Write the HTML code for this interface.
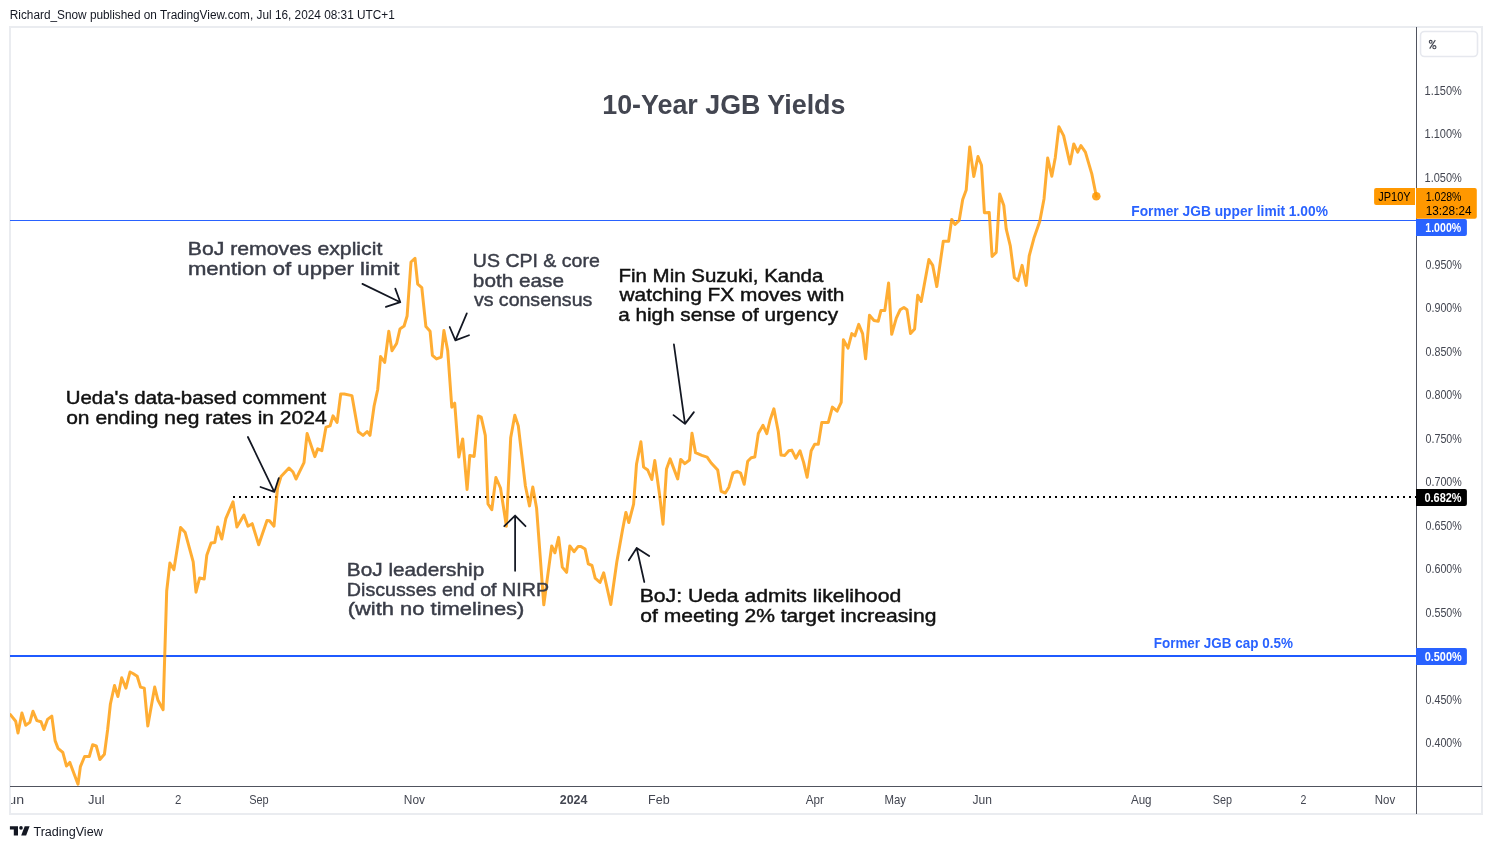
<!DOCTYPE html><html><head><meta charset="utf-8"><title>10-Year JGB Yields</title>
<style>html,body{margin:0;padding:0;background:#fff;}body{width:1492px;height:849px;overflow:hidden;}svg{display:block;font-family:"Liberation Sans", sans-serif;will-change:transform;}</style></head><body>
<svg width="1492" height="849" viewBox="0 0 1492 849">
<rect x="0" y="0" width="1492" height="849" fill="#ffffff"/>
<text x="9.79" y="18.8" font-size="12" fill="#131722" font-weight="normal" text-anchor="start" textLength="385.01" lengthAdjust="spacingAndGlyphs">Richard_Snow published on TradingView.com, Jul 16, 2024 08:31 UTC+1</text>
<rect x="10" y="27" width="1472" height="787" fill="#ffffff" stroke="#eaecf0" stroke-width="2"/>
<defs><clipPath id="pane"><rect x="10" y="28" width="1406" height="758"/></clipPath><clipPath id="tax"><rect x="11" y="787" width="1405" height="26"/></clipPath></defs>
<text x="602.28" y="113.7" font-size="27" fill="#434651" font-weight="bold" text-anchor="start" textLength="243.16" lengthAdjust="spacingAndGlyphs">10-Year JGB Yields</text>
<g clip-path="url(#pane)">
<rect x="10" y="220" width="1406" height="1" fill="#2962ff"/>
<rect x="10" y="655" width="1406" height="2" fill="#1f5aff"/>
<path d="M233 496h2v2h-2zM239 496h2v2h-2zM245 496h2v2h-2zM251 496h2v2h-2zM257 496h2v2h-2zM263 496h2v2h-2zM269 496h2v2h-2zM275 496h2v2h-2zM281 496h2v2h-2zM287 496h2v2h-2zM293 496h2v2h-2zM299 496h2v2h-2zM305 496h2v2h-2zM311 496h2v2h-2zM317 496h2v2h-2zM323 496h2v2h-2zM329 496h2v2h-2zM335 496h2v2h-2zM341 496h2v2h-2zM347 496h2v2h-2zM353 496h2v2h-2zM359 496h2v2h-2zM365 496h2v2h-2zM371 496h2v2h-2zM377 496h2v2h-2zM383 496h2v2h-2zM389 496h2v2h-2zM395 496h2v2h-2zM401 496h2v2h-2zM407 496h2v2h-2zM413 496h2v2h-2zM419 496h2v2h-2zM425 496h2v2h-2zM431 496h2v2h-2zM437 496h2v2h-2zM443 496h2v2h-2zM449 496h2v2h-2zM455 496h2v2h-2zM461 496h2v2h-2zM467 496h2v2h-2zM473 496h2v2h-2zM479 496h2v2h-2zM485 496h2v2h-2zM491 496h2v2h-2zM497 496h2v2h-2zM503 496h2v2h-2zM509 496h2v2h-2zM515 496h2v2h-2zM521 496h2v2h-2zM527 496h2v2h-2zM533 496h2v2h-2zM539 496h2v2h-2zM545 496h2v2h-2zM551 496h2v2h-2zM557 496h2v2h-2zM563 496h2v2h-2zM569 496h2v2h-2zM575 496h2v2h-2zM581 496h2v2h-2zM587 496h2v2h-2zM593 496h2v2h-2zM599 496h2v2h-2zM605 496h2v2h-2zM611 496h2v2h-2zM617 496h2v2h-2zM623 496h2v2h-2zM629 496h2v2h-2zM635 496h2v2h-2zM641 496h2v2h-2zM647 496h2v2h-2zM653 496h2v2h-2zM659 496h2v2h-2zM665 496h2v2h-2zM671 496h2v2h-2zM677 496h2v2h-2zM683 496h2v2h-2zM689 496h2v2h-2zM695 496h2v2h-2zM701 496h2v2h-2zM707 496h2v2h-2zM713 496h2v2h-2zM719 496h2v2h-2zM725 496h2v2h-2zM731 496h2v2h-2zM737 496h2v2h-2zM743 496h2v2h-2zM749 496h2v2h-2zM755 496h2v2h-2zM761 496h2v2h-2zM767 496h2v2h-2zM773 496h2v2h-2zM779 496h2v2h-2zM785 496h2v2h-2zM791 496h2v2h-2zM797 496h2v2h-2zM803 496h2v2h-2zM809 496h2v2h-2zM815 496h2v2h-2zM821 496h2v2h-2zM827 496h2v2h-2zM833 496h2v2h-2zM839 496h2v2h-2zM845 496h2v2h-2zM851 496h2v2h-2zM857 496h2v2h-2zM863 496h2v2h-2zM869 496h2v2h-2zM875 496h2v2h-2zM881 496h2v2h-2zM887 496h2v2h-2zM893 496h2v2h-2zM899 496h2v2h-2zM905 496h2v2h-2zM911 496h2v2h-2zM917 496h2v2h-2zM923 496h2v2h-2zM929 496h2v2h-2zM935 496h2v2h-2zM941 496h2v2h-2zM947 496h2v2h-2zM953 496h2v2h-2zM959 496h2v2h-2zM965 496h2v2h-2zM971 496h2v2h-2zM977 496h2v2h-2zM983 496h2v2h-2zM989 496h2v2h-2zM995 496h2v2h-2zM1001 496h2v2h-2zM1007 496h2v2h-2zM1013 496h2v2h-2zM1019 496h2v2h-2zM1025 496h2v2h-2zM1031 496h2v2h-2zM1037 496h2v2h-2zM1043 496h2v2h-2zM1049 496h2v2h-2zM1055 496h2v2h-2zM1061 496h2v2h-2zM1067 496h2v2h-2zM1073 496h2v2h-2zM1079 496h2v2h-2zM1085 496h2v2h-2zM1091 496h2v2h-2zM1097 496h2v2h-2zM1103 496h2v2h-2zM1109 496h2v2h-2zM1115 496h2v2h-2zM1121 496h2v2h-2zM1127 496h2v2h-2zM1133 496h2v2h-2zM1139 496h2v2h-2zM1145 496h2v2h-2zM1151 496h2v2h-2zM1157 496h2v2h-2zM1163 496h2v2h-2zM1169 496h2v2h-2zM1175 496h2v2h-2zM1181 496h2v2h-2zM1187 496h2v2h-2zM1193 496h2v2h-2zM1199 496h2v2h-2zM1205 496h2v2h-2zM1211 496h2v2h-2zM1217 496h2v2h-2zM1223 496h2v2h-2zM1229 496h2v2h-2zM1235 496h2v2h-2zM1241 496h2v2h-2zM1247 496h2v2h-2zM1253 496h2v2h-2zM1259 496h2v2h-2zM1265 496h2v2h-2zM1271 496h2v2h-2zM1277 496h2v2h-2zM1283 496h2v2h-2zM1289 496h2v2h-2zM1295 496h2v2h-2zM1301 496h2v2h-2zM1307 496h2v2h-2zM1313 496h2v2h-2zM1319 496h2v2h-2zM1325 496h2v2h-2zM1331 496h2v2h-2zM1337 496h2v2h-2zM1343 496h2v2h-2zM1349 496h2v2h-2zM1355 496h2v2h-2zM1361 496h2v2h-2zM1367 496h2v2h-2zM1373 496h2v2h-2zM1379 496h2v2h-2zM1385 496h2v2h-2zM1391 496h2v2h-2zM1397 496h2v2h-2zM1403 496h2v2h-2zM1409 496h2v2h-2zM1415 496h2v2h-2z" fill="#000"/>
<path d="M10.4 714.7 L15.7 721.2 L18.0 733.0 L21.9 713.0 L25.7 725.3 L29.8 722.4 L33.0 711.2 L36.9 720.6 L41.0 721.8 L43.9 729.5 L47.5 719.4 L51.8 716.1 L55.1 740.6 L58.0 748.3 L62.8 752.4 L66.5 766.0 L69.8 762.4 L78.0 784.2 L80.4 766.6 L84.6 756.5 L89.3 756.5 L92.6 744.8 L96.3 746.0 L99.9 759.5 L104.4 754.2 L107.6 730.0 L110.4 704.0 L114.5 685.5 L117.9 696.5 L121.7 677.7 L125.9 688.1 L130.0 672.0 L133.0 673.5 L137.2 676.3 L140.5 687.1 L144.3 688.1 L147.8 726.0 L154.7 687.1 L158.0 700.3 L163.1 709.7 L166.7 591.0 L169.9 563.0 L173.9 569.6 L180.6 527.4 L185.2 532.6 L193.2 561.8 L196.0 592.2 L199.6 578.0 L204.2 579.0 L206.8 555.2 L211.1 543.0 L214.8 542.5 L217.7 527.0 L221.8 539.0 L225.8 518.7 L233.0 501.8 L236.9 527.0 L243.9 515.0 L248.0 526.2 L252.2 523.7 L258.7 544.7 L267.0 520.4 L269.5 520.8 L274.0 526.2 L277.5 488.0 L281.0 476.5 L289.0 468.0 L293.0 472.0 L296.0 479.0 L304.0 462.7 L307.1 433.6 L314.8 456.6 L317.7 448.9 L321.8 450.7 L326.0 427.1 L330.1 425.9 L333.0 415.9 L337.1 422.4 L340.7 394.0 L344.2 394.0 L351.9 395.6 L358.3 431.8 L363.0 435.4 L367.2 431.5 L370.0 435.4 L374.1 406.0 L377.7 389.5 L380.6 356.5 L384.7 362.4 L388.8 331.3 L392.0 350.7 L396.6 343.5 L400.0 328.9 L404.1 326.0 L407.1 316.0 L411.0 262.0 L415.0 258.3 L417.7 284.2 L421.8 287.7 L425.9 326.6 L430.1 331.3 L432.4 355.3 L436.5 358.9 L441.2 357.1 L443.9 330.6 L447.7 350.6 L451.8 407.2 L454.7 403.2 L458.8 457.1 L462.7 438.9 L467.1 489.5 L469.8 455.4 L474.1 456.5 L478.3 415.9 L481.2 417.1 L485.3 435.3 L488.0 504.0 L491.8 509.7 L495.9 477.5 L500.5 488.0 L506.4 526.2 L510.7 437.7 L514.8 415.3 L518.3 425.9 L525.4 486.0 L529.5 505.9 L532.8 487.1 L536.6 508.3 L543.8 604.8 L551.7 545.9 L554.9 552.8 L558.6 537.4 L562.3 567.1 L566.6 572.4 L569.8 545.9 L574.0 551.7 L578.2 546.4 L580.9 546.4 L585.1 549.1 L588.3 563.9 L592.0 565.5 L595.2 578.2 L600.0 582.5 L603.7 572.9 L610.8 604.5 L616.8 562.0 L622.5 530.0 L625.9 512.4 L628.8 522.5 L633.6 504.2 L636.5 464.2 L640.9 441.8 L643.6 467.1 L647.7 470.0 L651.8 479.5 L654.8 460.6 L659.5 494.2 L663.0 524.2 L666.5 468.9 L670.1 458.9 L677.7 478.9 L680.7 459.4 L684.8 463.6 L689.5 460.0 L692.0 433.2 L695.5 452.7 L701.8 455.4 L707.1 457.1 L711.2 463.0 L717.7 470.1 L721.2 491.3 L725.3 493.0 L728.9 487.2 L733.0 473.0 L737.1 471.3 L740.6 473.0 L744.2 484.2 L747.7 461.2 L751.2 457.7 L754.8 457.1 L758.3 433.6 L763.0 425.3 L766.8 433.6 L770.1 420.0 L773.9 408.8 L778.3 431.8 L781.0 455.0 L784.8 455.4 L788.8 450.7 L791.8 450.1 L795.9 458.3 L800.0 450.7 L803.6 462.4 L807.1 477.2 L811.2 450.7 L814.7 444.2 L818.3 444.2 L821.8 422.4 L828.3 422.4 L832.4 407.1 L837.1 411.2 L841.2 402.4 L843.4 339.7 L848.0 348.1 L851.8 333.6 L854.9 335.8 L858.7 324.4 L862.6 333.6 L865.6 358.8 L869.5 315.2 L874.0 320.5 L878.2 321.3 L880.9 310.6 L884.8 310.6 L888.6 283.0 L891.7 334.3 L896.3 318.2 L900.1 309.8 L903.9 307.5 L907.0 309.8 L910.5 333.6 L914.6 329.0 L917.7 295.3 L921.2 301.5 L928.9 259.5 L932.7 265.4 L936.8 286.6 L943.3 241.2 L948.6 241.2 L951.7 219.4 L955.0 224.5 L959.2 220.4 L962.7 199.5 L966.2 190.1 L967.4 174.8 L969.7 147.1 L973.8 176.5 L978.0 156.5 L981.5 165.3 L984.4 212.7 L989.2 212.4 L992.1 256.5 L996.2 252.4 L999.7 194.1 L1003.8 205.5 L1006.2 228.9 L1010.3 245.9 L1014.4 277.7 L1018.0 280.7 L1022.1 265.4 L1026.2 285.4 L1029.2 256.0 L1033.9 238.3 L1039.8 221.2 L1044.0 199.0 L1047.7 158.0 L1051.8 176.2 L1055.3 157.4 L1058.9 126.8 L1063.6 135.6 L1070.0 163.9 L1073.8 143.9 L1077.7 152.1 L1080.9 145.6 L1085.4 152.1 L1091.8 173.9 L1096.3 196.2" fill="none" stroke="#ff9800" stroke-opacity="0.8" stroke-width="3" stroke-linejoin="round" stroke-linecap="round"/>
<circle cx="1096.3" cy="196.2" r="4.3" fill="#ff9800" fill-opacity="0.85"/>
<path d="M362.4 283.9 L400.3 302.2 M395.3 288.6 L400.3 302.2 L385.9 306.9" stroke="#131722" stroke-width="1.75" fill="none" stroke-linecap="round" stroke-linejoin="round"/>
<path d="M466.8 313.4 L455.4 340.4 M449.7 327.0 L455.4 340.4 L469.0 335.2" stroke="#131722" stroke-width="1.75" fill="none" stroke-linecap="round" stroke-linejoin="round"/>
<path d="M247.9 437.0 L274.3 491.9 M260.5 487.0 L274.3 491.9 L278.8 478.1" stroke="#131722" stroke-width="1.75" fill="none" stroke-linecap="round" stroke-linejoin="round"/>
<path d="M673.9 344.4 L685.0 423.9 M673.5 415.1 L685.0 423.9 L693.9 412.1" stroke="#131722" stroke-width="1.75" fill="none" stroke-linecap="round" stroke-linejoin="round"/>
<path d="M515.1 570.8 L515.1 515.6 M504.3 526.2 L515.1 515.6 L525.5 526.2" stroke="#131722" stroke-width="1.75" fill="none" stroke-linecap="round" stroke-linejoin="round"/>
<path d="M644.3 582.0 L636.7 548.0 M628.8 560.3 L636.7 548.0 L649.2 556.0" stroke="#131722" stroke-width="1.75" fill="none" stroke-linecap="round" stroke-linejoin="round"/>
</g>
<text x="187.78" y="254.8" font-size="19.0" fill="#3a3d48" font-weight="normal" text-anchor="start" textLength="194.53" lengthAdjust="spacingAndGlyphs" stroke="#3a3d48" stroke-width="0.45">BoJ removes explicit</text>
<text x="187.9" y="274.8" font-size="19.0" fill="#3a3d48" font-weight="normal" text-anchor="start" textLength="211.5" lengthAdjust="spacingAndGlyphs" stroke="#3a3d48" stroke-width="0.45">mention of upper limit</text>
<text x="65.7" y="403.6" font-size="19.0" fill="#111111" font-weight="normal" text-anchor="start" textLength="260.5" lengthAdjust="spacingAndGlyphs" stroke="#111111" stroke-width="0.45">Ueda's data-based comment</text>
<text x="66.2" y="423.8" font-size="19.0" fill="#111111" font-weight="normal" text-anchor="start" textLength="260.4" lengthAdjust="spacingAndGlyphs" stroke="#111111" stroke-width="0.45">on ending neg rates in 2024</text>
<text x="472.89" y="266.6" font-size="19.0" fill="#3a3d48" font-weight="normal" text-anchor="start" textLength="126.91" lengthAdjust="spacingAndGlyphs" stroke="#3a3d48" stroke-width="0.45">US CPI &amp; core</text>
<text x="472.87" y="286.7" font-size="19.0" fill="#3a3d48" font-weight="normal" text-anchor="start" textLength="91.16" lengthAdjust="spacingAndGlyphs" stroke="#3a3d48" stroke-width="0.45">both ease</text>
<text x="473.9" y="306.4" font-size="19.0" fill="#3a3d48" font-weight="normal" text-anchor="start" textLength="118.4" lengthAdjust="spacingAndGlyphs" stroke="#3a3d48" stroke-width="0.45">vs consensus</text>
<text x="618.47" y="281.5" font-size="19.0" fill="#111111" font-weight="normal" text-anchor="start" textLength="204.93" lengthAdjust="spacingAndGlyphs" stroke="#111111" stroke-width="0.45">Fin Min Suzuki, Kanda</text>
<text x="619.5" y="301.4" font-size="19.0" fill="#111111" font-weight="normal" text-anchor="start" textLength="224.82" lengthAdjust="spacingAndGlyphs" stroke="#111111" stroke-width="0.45">watching FX moves with</text>
<text x="618.2" y="321.2" font-size="19.0" fill="#111111" font-weight="normal" text-anchor="start" textLength="219.9" lengthAdjust="spacingAndGlyphs" stroke="#111111" stroke-width="0.45">a high sense of urgency</text>
<text x="346.87" y="575.6" font-size="19.0" fill="#3a3d48" font-weight="normal" text-anchor="start" textLength="137.34" lengthAdjust="spacingAndGlyphs" stroke="#3a3d48" stroke-width="0.45">BoJ leadership</text>
<text x="346.88" y="595.6" font-size="19.0" fill="#3a3d48" font-weight="normal" text-anchor="start" textLength="202.13" lengthAdjust="spacingAndGlyphs" stroke="#3a3d48" stroke-width="0.45">Discusses end of NIRP</text>
<text x="347.69" y="615.4" font-size="19.0" fill="#3a3d48" font-weight="normal" text-anchor="start" textLength="176.69" lengthAdjust="spacingAndGlyphs" stroke="#3a3d48" stroke-width="0.45">(with no timelines)</text>
<text x="639.66" y="601.6" font-size="19.0" fill="#111111" font-weight="normal" text-anchor="start" textLength="261.56" lengthAdjust="spacingAndGlyphs" stroke="#111111" stroke-width="0.45">BoJ: Ueda admits likelihood</text>
<text x="640.3" y="621.5" font-size="19.0" fill="#111111" font-weight="normal" text-anchor="start" textLength="296.12" lengthAdjust="spacingAndGlyphs" stroke="#111111" stroke-width="0.45">of meeting 2% target increasing</text>
<text x="1131.3" y="215.8" font-size="14.2" fill="#2962ff" font-weight="bold" text-anchor="start" textLength="196.6" lengthAdjust="spacingAndGlyphs">Former JGB upper limit 1.00%</text>
<text x="1153.69" y="648.3" font-size="14.2" fill="#2962ff" font-weight="bold" text-anchor="start" textLength="139.21" lengthAdjust="spacingAndGlyphs">Former JGB cap 0.5%</text>
<rect x="1416" y="27" width="1" height="787" fill="#50535e"/>
<rect x="10" y="786" width="1472" height="1" fill="#50535e"/>
<text x="1424.54" y="94.8" font-size="12" fill="#434651" font-weight="normal" text-anchor="start" textLength="37.29" lengthAdjust="spacingAndGlyphs">1.150%</text>
<text x="1424.54" y="138.3" font-size="12" fill="#434651" font-weight="normal" text-anchor="start" textLength="37.29" lengthAdjust="spacingAndGlyphs">1.100%</text>
<text x="1424.54" y="181.8" font-size="12" fill="#434651" font-weight="normal" text-anchor="start" textLength="37.29" lengthAdjust="spacingAndGlyphs">1.050%</text>
<text x="1425.58" y="268.8" font-size="12" fill="#434651" font-weight="normal" text-anchor="start" textLength="36.24" lengthAdjust="spacingAndGlyphs">0.950%</text>
<text x="1425.58" y="312.3" font-size="12" fill="#434651" font-weight="normal" text-anchor="start" textLength="36.24" lengthAdjust="spacingAndGlyphs">0.900%</text>
<text x="1425.58" y="355.8" font-size="12" fill="#434651" font-weight="normal" text-anchor="start" textLength="36.24" lengthAdjust="spacingAndGlyphs">0.850%</text>
<text x="1425.58" y="399.3" font-size="12" fill="#434651" font-weight="normal" text-anchor="start" textLength="36.24" lengthAdjust="spacingAndGlyphs">0.800%</text>
<text x="1425.58" y="442.9" font-size="12" fill="#434651" font-weight="normal" text-anchor="start" textLength="36.24" lengthAdjust="spacingAndGlyphs">0.750%</text>
<text x="1425.58" y="486.4" font-size="12" fill="#434651" font-weight="normal" text-anchor="start" textLength="36.24" lengthAdjust="spacingAndGlyphs">0.700%</text>
<text x="1425.58" y="529.9" font-size="12" fill="#434651" font-weight="normal" text-anchor="start" textLength="36.24" lengthAdjust="spacingAndGlyphs">0.650%</text>
<text x="1425.58" y="573.4" font-size="12" fill="#434651" font-weight="normal" text-anchor="start" textLength="36.24" lengthAdjust="spacingAndGlyphs">0.600%</text>
<text x="1425.58" y="616.9" font-size="12" fill="#434651" font-weight="normal" text-anchor="start" textLength="36.24" lengthAdjust="spacingAndGlyphs">0.550%</text>
<text x="1425.58" y="703.9" font-size="12" fill="#434651" font-weight="normal" text-anchor="start" textLength="36.24" lengthAdjust="spacingAndGlyphs">0.450%</text>
<text x="1425.58" y="747.4" font-size="12" fill="#434651" font-weight="normal" text-anchor="start" textLength="36.24" lengthAdjust="spacingAndGlyphs">0.400%</text>
<rect x="1420.5" y="31.5" width="57" height="25" rx="4" fill="#fff" stroke="#e6e8ee" stroke-width="1.6"/>
<g fill="none" stroke="#434651" stroke-width="1.1"><circle cx="1430.7" cy="41.8" r="1.4"/><circle cx="1434.4" cy="47.2" r="1.55"/><path d="M1429.7 48.6L1435.3 40.1"/></g>
<path d="M1416 188h58.8a2 2 0 0 1 2 2v26.7a2 2 0 0 1 -2 2h-58.8z" fill="#ff9800"/>
<path d="M1415 188v17h-38.9a2 2 0 0 1 -2 -2v-13a2 2 0 0 1 2 -2z" fill="#ff9800"/>
<text x="1378.29" y="200.8" font-size="12" fill="#000" font-weight="normal" text-anchor="start" textLength="32.33" lengthAdjust="spacingAndGlyphs">JP10Y</text>
<text x="1425.77" y="200.8" font-size="12" fill="#000" font-weight="normal" text-anchor="start" textLength="35.7" lengthAdjust="spacingAndGlyphs">1.028%</text>
<text x="1425.7" y="214.6" font-size="12" fill="#000" font-weight="normal" text-anchor="start" textLength="45.86" lengthAdjust="spacingAndGlyphs">13:28:24</text>
<path d="M1416 219h48.9a2 2 0 0 1 2 2v13a2 2 0 0 1 -2 2h-48.9z" fill="#2962ff"/>
<text x="1425.29" y="232" font-size="12.2" fill="#fff" font-weight="bold" text-anchor="start" textLength="35.91" lengthAdjust="spacingAndGlyphs">1.000%</text>
<path d="M1416 489h48.9a2 2 0 0 1 2 2v13a2 2 0 0 1 -2 2h-48.9z" fill="#000"/>
<text x="1424.48" y="502" font-size="12.2" fill="#fff" font-weight="bold" text-anchor="start" textLength="37.15" lengthAdjust="spacingAndGlyphs">0.682%</text>
<path d="M1416 648h48.9a2 2 0 0 1 2 2v13a2 2 0 0 1 -2 2h-48.9z" fill="#2962ff"/>
<text x="1424.68" y="661" font-size="12.2" fill="#fff" font-weight="bold" text-anchor="start" textLength="36.97" lengthAdjust="spacingAndGlyphs">0.500%</text>
<text x="88.08" y="803.8" font-size="12.2" fill="#434651" font-weight="normal" text-anchor="start" textLength="16.55" lengthAdjust="spacingAndGlyphs">Jul</text>
<text x="174.93" y="803.8" font-size="12.2" fill="#434651" font-weight="normal" text-anchor="start" textLength="6.35" lengthAdjust="spacingAndGlyphs">2</text>
<text x="249.14" y="803.8" font-size="12.2" fill="#434651" font-weight="normal" text-anchor="start" textLength="19.54" lengthAdjust="spacingAndGlyphs">Sep</text>
<text x="403.82" y="803.8" font-size="12.2" fill="#434651" font-weight="normal" text-anchor="start" textLength="21.18" lengthAdjust="spacingAndGlyphs">Nov</text>
<text x="559.82" y="803.8" font-size="12.2" fill="#434651" font-weight="bold" text-anchor="start" textLength="27.58" lengthAdjust="spacingAndGlyphs">2024</text>
<text x="648.05" y="803.8" font-size="12.2" fill="#434651" font-weight="normal" text-anchor="start" textLength="21.56" lengthAdjust="spacingAndGlyphs">Feb</text>
<text x="805.75" y="803.8" font-size="12.2" fill="#434651" font-weight="normal" text-anchor="start" textLength="18.25" lengthAdjust="spacingAndGlyphs">Apr</text>
<text x="884.5" y="803.8" font-size="12.2" fill="#434651" font-weight="normal" text-anchor="start" textLength="21.5" lengthAdjust="spacingAndGlyphs">May</text>
<text x="972.45" y="803.8" font-size="12.2" fill="#434651" font-weight="normal" text-anchor="start" textLength="19.43" lengthAdjust="spacingAndGlyphs">Jun</text>
<text x="1130.92" y="803.8" font-size="12.2" fill="#434651" font-weight="normal" text-anchor="start" textLength="20.66" lengthAdjust="spacingAndGlyphs">Aug</text>
<text x="1212.73" y="803.8" font-size="12.2" fill="#434651" font-weight="normal" text-anchor="start" textLength="19.19" lengthAdjust="spacingAndGlyphs">Sep</text>
<text x="1300.49" y="803.8" font-size="12.2" fill="#434651" font-weight="normal" text-anchor="start" textLength="5.88" lengthAdjust="spacingAndGlyphs">2</text>
<text x="1374.79" y="803.8" font-size="12.2" fill="#434651" font-weight="normal" text-anchor="start" textLength="20.42" lengthAdjust="spacingAndGlyphs">Nov</text>
<g clip-path="url(#tax)">
<text x="1.2" y="803.8" font-size="12.2" fill="#434651" font-weight="normal" text-anchor="start" textLength="22.9" lengthAdjust="spacingAndGlyphs">Jun</text>
</g>
<path d="M9.9 826.3h8.1v9.3h-4.2v-6h-3.9z" fill="#131722"/>
<circle cx="21" cy="827.9" r="1.8" fill="#131722"/>
<path d="M24.7 826.3h4.9l-3.5 9.3h-4.9z" fill="#131722"/>
<text x="33.4" y="835.6" font-size="12.5" fill="#131722" font-weight="normal" text-anchor="start" textLength="69.41" lengthAdjust="spacingAndGlyphs">TradingView</text>
</svg></body></html>
